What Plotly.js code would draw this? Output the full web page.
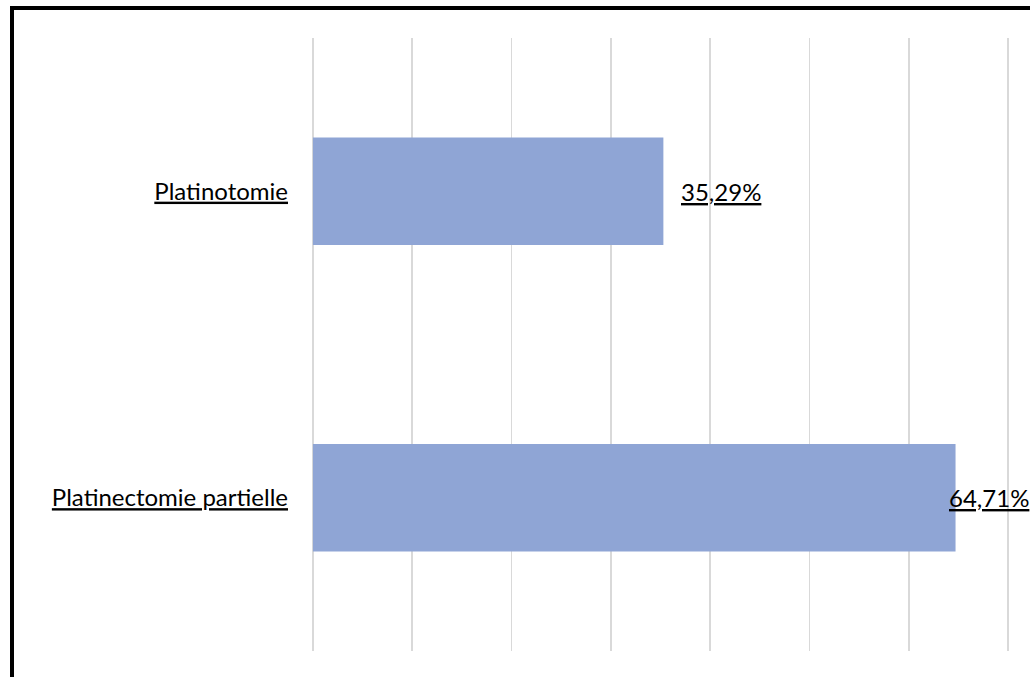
<!DOCTYPE html>
<html>
<head>
<meta charset="utf-8">
<script src="https://cdn.plot.ly/plotly-3.0.1.min.js"></script>
<style>
html,body{margin:0;padding:0;background:#fff;}
#chart{width:1030px;height:677px;}
</style>
</head>
<body>
<div id="chart"></div>
<script>
// Data
const categories = ["Platinectomie partielle", "Platinotomie"];
const values = [64.71, 35.29];
const valueLabels = ["64,71%", "35,29%"];

const W = 1030, H = 677;
const margin = {l: 303, r: 12, t: 38, b: 26};
const pw = W - margin.l - margin.r, ph = H - margin.t - margin.b;
const labelShift = [-9, 16];

const fontFam = "Lato, 'Open Sans', sans-serif";

const trace = {
  type: 'bar',
  orientation: 'h',
  y: categories,
  x: values,
  marker: {color: '#8FA5D5'},
  width: 0.35,
  hoverinfo: 'skip'
};

const annotations = values.map((v, i) => ({
  x: v, y: categories[i], xref: 'x', yref: 'y',
  text: '<u>' + valueLabels[i] + '</u>',
  showarrow: false, xanchor: 'left', yanchor: 'middle',
  xshift: labelShift[i],
  font: {family: fontFam, size: 24, color: '#000'}
}));

const layout = {
  width: W, height: H,
  margin: margin,
  paper_bgcolor: '#fff', plot_bgcolor: '#fff',
  showlegend: false,
  xaxis: {
    range: [-1, 71], tickmode: 'linear', tick0: 0, dtick: 10,
    showgrid: true, gridcolor: '#d9d9d9', gridwidth: 1.5,
    zeroline: true, zerolinecolor: '#d9d9d9', zerolinewidth: 1.5,
    showticklabels: false, showline: false, ticks: '',
    fixedrange: true
  },
  yaxis: {
    type: 'category',
    categoryorder: 'array', categoryarray: categories,
    tickvals: categories,
    ticktext: categories.map(c => '<u>' + c + '</u>'),
    tickfont: {family: fontFam, size: 24, color: '#000'},
    ticks: '', showgrid: false, zeroline: false, showline: false,
    ticklabelstandoff: 14,
    fixedrange: true
  },
  annotations: annotations,
  shapes: [{
    type: 'rect', xref: 'paper', yref: 'paper',
    x0: (12 - margin.l) / pw, x1: 3,
    y0: -3, y1: 1 + (margin.t - 8) / ph,
    line: {color: '#000', width: 4}, fillcolor: 'rgba(0,0,0,0)',
    layer: 'above'
  }]
};

Plotly.newPlot('chart', [trace], layout, {displayModeBar: false, staticPlot: true});
</script>
</body>
</html>
